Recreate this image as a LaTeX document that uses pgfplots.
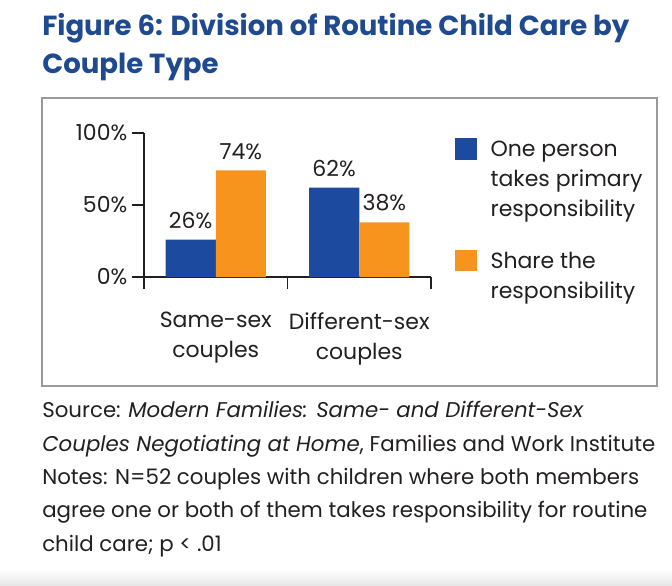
\documentclass[border=0pt]{standalone}
\usepackage{pgfplots}
\pgfplotsset{compat=1.18}
\usepackage{fontspec}
\setmainfont{Poppins}
\definecolor{tblue}{HTML}{1F4A8F}
\definecolor{bblue}{HTML}{1C4A9E}
\definecolor{borange}{HTML}{F7941E}
\definecolor{txt}{HTML}{231F20}
\newcommand\axfont{\fontsize{16.5}{22.5}\selectfont}
\begin{document}
\begin{tikzpicture}
\path[use as bounding box] (0,0) rectangle (504pt,-439.5pt);
\shade[top color=white, bottom color=black!10] (0pt,-427pt) rectangle (504pt,-439.5pt);
\node[anchor=base west, align=left, font=\fontsize{20.7}{28.5}\selectfont\bfseries, text=tblue, inner sep=0pt] at (31.5pt,-54.75pt) {Figure 6: Division of Routine Child Care by\\Couple Type};
\draw[color=black!40, line width=1.1pt] (31.5pt,-73.5pt) rectangle (492.75pt,-289.5pt);
\begin{axis}[
  at={(108pt,-207.75pt)}, anchor=south west,
  scale only axis, width=215.25pt, height=108pt,
  xmin=0, xmax=2, ymin=0, ymax=100,
  axis lines=left,
  axis line style={draw=txt, line width=0.8pt, -},
  ybar=0pt, bar width=0.35,
  xtick={0.5,1.5},
  xticklabels={{Same-sex\\couples},{Different-sex\\couples}},
  minor xtick={0,1,2},
  major x tick style={draw=none},
  minor tick length=9pt,
  major tick length=9pt,
  tick align=outside,
  tick style={draw=txt, line width=0.8pt},
  xticklabel style={align=center, font=\axfont, text=txt, yshift=-14pt},
  ytick={0,50,100},
  yticklabels={0\%,50\%,100\%},
  yticklabel style={font=\axfont, text=txt},
  nodes near coords={\pgfmathprintnumber[assume math mode=true]{\pgfplotspointmeta}\%},
  every node near coord/.append style={font=\axfont, text=txt, inner sep=8pt},
  legend style={at={(axis description cs:1.0836,0.965)}, anchor=north west,
    draw=none, fill=none, inner sep=0pt, font=\axfont, text=txt,
    nodes={align=left, anchor=north west, inner sep=0pt},
    row sep=24pt, column sep=10.5pt},
]
\addplot[fill=bblue, draw=none, legend image code/.code={\fill[bblue] (0pt,1.5pt) rectangle (16pt,-14.5pt);}] coordinates {(0.5,26) (1.5,62)};
\addplot[fill=borange, draw=none, legend image code/.code={\fill[borange] (0pt,1.5pt) rectangle (16pt,-14.5pt);}] coordinates {(0.5,74) (1.5,38)};
\legend{{One person\\takes primary\\responsibility},{Share the\\responsibility}}
\end{axis}
\node[anchor=base west, align=left, font=\fontsize{16}{25}\selectfont, text=txt, inner sep=0pt] at (31.5pt,-413.25pt) {Source: \textit{Modern Families: Same- and Different-Sex}\\\textit{Couples Negotiating at Home}, Families and Work Institute\\Notes: N=52 couples with children where both members\\agree one or both of them takes responsibility for routine\\child care; p < .01};
\end{tikzpicture}
\end{document}
